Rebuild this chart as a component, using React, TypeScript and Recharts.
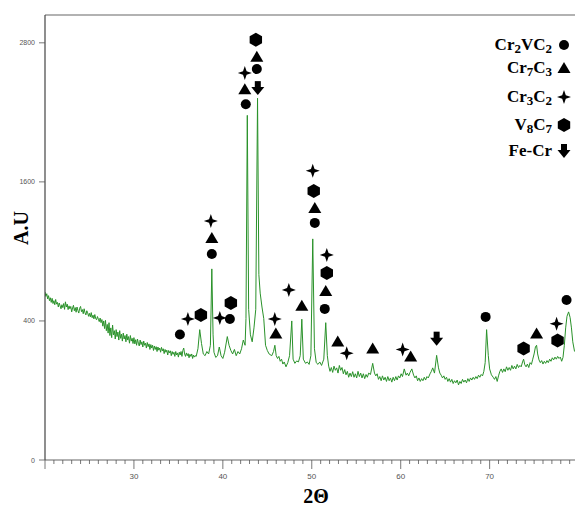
import { ComposedChart, Line, ReferenceLine, Scatter, XAxis, YAxis } from "recharts";

// XRD trace: [2θ, intensity]
const trace: [number, number][] = [
  [20.0, 650], [20.1, 612], [20.2, 635], [20.3, 590], [20.4, 618], [20.5, 575], [20.6, 600], [20.7, 560],
  [20.8, 595], [20.9, 550], [21.0, 575], [21.1, 540], [21.2, 585], [21.3, 545], [21.4, 560], [21.5, 520],
  [21.6, 555], [21.7, 530], [21.8, 505], [21.9, 540], [22.0, 515], [22.1, 550], [22.2, 500], [22.3, 565],
  [22.4, 520], [22.5, 545], [22.6, 498], [22.7, 530], [22.8, 505], [22.9, 525], [23.0, 478], [23.1, 512],
  [23.2, 535], [23.3, 488], [23.4, 515], [23.5, 475], [23.6, 520], [23.7, 490], [23.8, 468], [23.9, 510],
  [24.0, 525], [24.1, 480], [24.2, 498], [24.3, 462], [24.4, 505], [24.5, 470], [24.6, 452], [24.7, 488],
  [24.8, 470], [24.9, 440], [25.0, 465], [25.1, 435], [25.2, 472], [25.3, 428], [25.4, 450], [25.5, 418],
  [25.6, 455], [25.7, 420], [25.8, 410], [25.9, 438], [26.0, 415], [26.1, 398], [26.2, 425], [26.3, 395],
  [26.4, 412], [26.5, 385], [26.6, 400], [26.7, 378], [26.8, 405], [26.9, 372], [27.0, 390], [27.1, 365],
  [27.2, 395], [27.3, 358], [27.4, 380], [27.5, 352], [27.6, 388], [27.7, 360], [27.8, 372], [27.9, 348],
  [28.0, 375], [28.1, 355], [28.2, 368], [28.3, 345], [28.4, 372], [28.5, 350], [28.6, 362], [28.7, 342],
  [28.8, 365], [28.9, 348], [29.0, 358], [29.1, 340], [29.2, 362], [29.3, 345], [29.4, 355], [29.5, 336],
  [29.6, 358], [29.7, 342], [29.8, 350], [29.9, 335], [30.0, 352], [30.1, 334], [30.2, 346], [30.3, 330],
  [30.4, 348], [30.5, 336], [30.6, 328], [30.7, 345], [30.8, 332], [30.9, 340], [31.0, 325], [31.1, 342],
  [31.2, 330], [31.3, 336], [31.4, 322], [31.5, 338], [31.6, 326], [31.7, 334], [31.8, 318], [31.9, 332],
  [32.0, 322], [32.1, 330], [32.2, 315], [32.3, 328], [32.4, 318], [32.5, 326], [32.6, 312], [32.7, 325],
  [32.8, 316], [32.9, 322], [33.0, 310], [33.1, 324], [33.2, 314], [33.3, 320], [33.4, 306], [33.5, 318],
  [33.6, 310], [33.7, 316], [33.8, 302], [33.9, 315], [34.0, 308], [34.1, 314], [34.2, 300], [34.3, 312],
  [34.4, 304], [34.5, 310], [34.6, 298], [34.7, 312], [34.8, 302], [34.9, 308], [35.0, 296], [35.1, 310],
  [35.2, 302], [35.3, 312], [35.4, 298], [35.5, 315], [35.6, 322], [35.7, 305], [35.8, 298], [35.9, 308],
  [36.0, 300], [36.1, 306], [36.2, 294], [36.3, 304], [36.4, 298], [36.5, 305], [36.6, 292], [36.7, 302],
  [36.8, 296], [36.9, 300], [37.0, 298], [37.2, 320], [37.4, 375], [37.6, 335], [37.8, 305], [38.0, 300],
  [38.2, 312], [38.4, 305], [38.6, 330], [38.76, 849], [38.9, 360], [39.0, 310], [39.2, 295], [39.4, 300],
  [39.6, 325], [39.8, 300], [40.0, 292], [40.2, 310], [40.5, 355], [40.7, 330], [40.9, 315], [41.1, 305],
  [41.3, 318], [41.5, 300], [41.7, 312], [41.9, 305], [42.1, 320], [42.3, 345], [42.5, 330], [42.6, 420],
  [42.75, 2174], [42.9, 500], [43.1, 360], [43.3, 340], [43.5, 380], [43.7, 500], [43.9, 2322], [44.05, 800],
  [44.2, 640], [44.4, 520], [44.6, 420], [44.8, 330], [45.0, 315], [45.2, 305], [45.5, 300], [45.7, 312],
  [45.85, 330], [46.0, 300], [46.15, 292], [46.3, 298], [46.45, 284], [46.6, 290], [46.75, 276], [46.9, 282],
  [47.1, 268], [47.3, 280], [47.5, 300], [47.75, 400], [47.9, 290], [48.1, 278], [48.3, 285], [48.5, 282],
  [48.7, 300], [48.88, 415], [49.05, 290], [49.3, 278], [49.5, 282], [49.7, 275], [49.9, 300], [50.11, 1108],
  [50.3, 320], [50.5, 280], [50.7, 275], [50.9, 282], [51.1, 272], [51.35, 290], [51.57, 395], [51.75, 300],
  [51.9, 270], [52.05, 255], [52.2, 266], [52.35, 252], [52.5, 270], [52.65, 258], [52.8, 265], [52.95, 250],
  [53.1, 272], [53.25, 258], [53.4, 266], [53.55, 248], [53.7, 260], [53.85, 245], [54.0, 255], [54.15, 238],
  [54.3, 250], [54.45, 240], [54.6, 254], [54.75, 238], [54.9, 248], [55.05, 236], [55.2, 255], [55.35, 240],
  [55.5, 250], [55.65, 236], [55.8, 248], [55.95, 234], [56.1, 246], [56.25, 238], [56.4, 250], [56.6, 246],
  [56.85, 278], [57.05, 250], [57.2, 242], [57.35, 248], [57.5, 232], [57.65, 240], [57.8, 228], [57.95, 242],
  [58.1, 230], [58.25, 238], [58.4, 226], [58.55, 240], [58.7, 228], [58.85, 236], [59.0, 224], [59.15, 238],
  [59.3, 228], [59.45, 240], [59.6, 230], [59.75, 242], [59.9, 236], [60.05, 248], [60.2, 240], [60.4, 262],
  [60.6, 244], [60.75, 250], [60.9, 242], [61.05, 252], [61.25, 262], [61.45, 244], [61.6, 236], [61.75, 242],
  [61.9, 228], [62.05, 236], [62.2, 226], [62.35, 234], [62.5, 228], [62.65, 238], [62.8, 230], [62.95, 240],
  [63.1, 236], [63.3, 248], [63.45, 255], [63.6, 265], [63.8, 250], [64.04, 301], [64.25, 265], [64.4, 250],
  [64.55, 244], [64.7, 236], [64.85, 242], [65.0, 232], [65.15, 238], [65.3, 226], [65.45, 234], [65.6, 224],
  [65.75, 232], [65.9, 220], [66.05, 228], [66.2, 222], [66.35, 230], [66.5, 216], [66.65, 226], [66.8, 220],
  [66.95, 232], [67.1, 224], [67.25, 230], [67.4, 222], [67.55, 234], [67.7, 226], [67.85, 236], [68.0, 230],
  [68.15, 238], [68.3, 232], [68.45, 240], [68.6, 234], [68.75, 244], [68.9, 238], [69.05, 246], [69.2, 242],
  [69.35, 255], [69.5, 280], [69.66, 375], [69.85, 300], [70.0, 262], [70.2, 245], [70.4, 238], [70.55, 232],
  [70.7, 240], [70.85, 226], [71.0, 242], [71.15, 255], [71.3, 262], [71.45, 252], [71.6, 262], [71.75, 254],
  [71.9, 268], [72.05, 258], [72.2, 266], [72.35, 258], [72.5, 272], [72.65, 262], [72.8, 270], [72.95, 262],
  [73.1, 275], [73.25, 266], [73.4, 272], [73.55, 268], [73.7, 282], [73.82, 290], [73.95, 274], [74.1, 268],
  [74.25, 276], [74.4, 266], [74.55, 280], [74.7, 275], [74.85, 290], [75.0, 305], [75.15, 325], [75.28, 330],
  [75.4, 305], [75.55, 288], [75.7, 280], [75.85, 286], [76.0, 276], [76.15, 284], [76.3, 278], [76.45, 286],
  [76.6, 280], [76.75, 290], [76.9, 284], [77.05, 294], [77.2, 288], [77.35, 296], [77.5, 290], [77.65, 298],
  [77.8, 292], [77.95, 296], [78.1, 284], [78.25, 295], [78.4, 330], [78.55, 380], [78.7, 440], [78.88, 478],
  [79.05, 430], [79.2, 380], [79.35, 340], [79.55, 312],
];

// peak markers per phase: [2θ, height]
const cr2vc2: [number, number][] = [
  [35.17, 361], [38.76, 978], [40.79, 417], [42.58, 2270], [43.82, 2574], [50.34, 1246], [51.46, 504], [69.55, 435], [78.65, 581],
];
const cr7c3: [number, number][] = [
  [38.76, 1116], [42.47, 2400], [43.82, 2679], [45.96, 364], [48.88, 530], [50.34, 1375], [51.57, 659], [52.92, 341],
  [56.85, 321], [61.12, 298], [75.28, 364],
];
const cr3c2: [number, number][] = [
  [36.07, 417], [38.65, 1263], [39.66, 426], [42.47, 2540], [45.84, 417], [47.42, 668], [50.11, 1696], [51.69, 970],
  [53.93, 307], [60.22, 318], [77.53, 392],
];
const v8c7: [number, number][] = [
  [37.53, 452], [40.9, 555], [43.71, 2827], [50.22, 1522], [51.69, 814], [73.82, 321], [77.64, 344],
];
const fecr: [number, number][] = [
  [43.93, 2409], [64.04, 349],
];

const yTicks = [0, 400, 1600, 2800];
const xLabels = [30, 40, 50, 60, 70];
const xTicks = Array.from({ length: 60 }, (_, i) => 20 + i);

const toPts = (a: [number, number][]) => a.map(([x, y]) => ({ x, y }));

// the intensity axis in the picture is stretched: 0-400, 400-1600, 1600-2800 take equal space
const toStep = (v: number) => (v <= 400 ? v / 400 : v <= 1600 ? 1 + (v - 400) / 1200 : 2 + (v - 1600) / 1200);
const fromStep = (s: number) => (s <= 1 ? s * 400 : s <= 2 ? 400 + (s - 1) * 1200 : 1600 + (s - 2) * 1200);

function auScale(dom: number[] = [0, 1], rng: number[] = [0, 1]): any {
  const scale: any = (v: number) => {
    const a = toStep(dom[0]);
    const b = toStep(dom[dom.length - 1]);
    return rng[0] + ((toStep(v) - a) / (b - a)) * (rng[rng.length - 1] - rng[0]);
  };
  scale.domain = (d?: number[]) => {
    if (d === undefined) return [...dom];
    dom = [...d];
    return scale;
  };
  scale.range = (r?: number[]) => {
    if (r === undefined) return [...rng];
    rng = [...r];
    return scale;
  };
  scale.invert = (p: number) => {
    const a = toStep(dom[0]);
    const b = toStep(dom[dom.length - 1]);
    return fromStep(a + ((p - rng[0]) / (rng[rng.length - 1] - rng[0])) * (b - a));
  };
  scale.ticks = () => yTicks;
  scale.copy = () => auScale(dom, rng);
  return scale;
}

const Circle = ({ cx, cy }: any) => <circle cx={cx} cy={cy} r={5} fill="#000" />;
const Tri = ({ cx, cy }: any) => (
  <polygon points={`${cx},${cy - 6} ${cx + 6.5},${cy + 5} ${cx - 6.5},${cy + 5}`} fill="#000" />
);
const Star = ({ cx, cy }: any) => (
  <polygon
    points={`${cx},${cy - 7} ${cx + 1.8},${cy - 1.8} ${cx + 7},${cy} ${cx + 1.8},${cy + 1.8} ${cx},${cy + 7} ${cx - 1.8},${cy + 1.8} ${cx - 7},${cy} ${cx - 1.8},${cy - 1.8}`}
    fill="#000"
  />
);
const Hex = ({ cx, cy }: any) => (
  <polygon
    points={`${cx},${cy - 7} ${cx + 6.2},${cy - 3.5} ${cx + 6.2},${cy + 3.5} ${cx},${cy + 7} ${cx - 6.2},${cy + 3.5} ${cx - 6.2},${cy - 3.5}`}
    fill="#000"
  />
);
const Arrow = ({ cx, cy }: any) => (
  <g fill="#000">
    <rect x={cx - 3} y={cy - 7} width={6} height={7} />
    <polygon points={`${cx - 6.5},${cy - 1} ${cx + 6.5},${cy - 1} ${cx},${cy + 7}`} />
  </g>
);

const phases = [
  { name: ["Cr", "2", "VC", "2"], shape: Circle },
  { name: ["Cr", "7", "C", "3"], shape: Tri },
  { name: ["Cr", "3", "C", "2"], shape: Star },
  { name: ["V", "8", "C", "7"], shape: Hex },
  { name: ["Fe-Cr"], shape: Arrow },
];
const legendRows = [45, 68, 97, 125, 151];

const XTick = (p: any) => {
  const v = p.payload.value;
  const major = v % 10 === 0;
  return (
    <g>
      <line x1={p.x} x2={p.x} y1={p.y} y2={p.y + (major ? 9 : 4)} stroke="#555" strokeWidth={0.8} />
      {major && xLabels.includes(v) && (
        <text x={p.x} y={p.y + 19} textAnchor="middle" fontSize={8} fill="#555" fontFamily="Liberation Sans">
          {v}
        </text>
      )}
    </g>
  );
};

const YTick = (p: any) => (
  <g>
    <line x1={p.x - 6} x2={p.x} y1={p.y} y2={p.y} stroke="#555" strokeWidth={0.8} />
    <text x={p.x - 10} y={p.y} dy={2.5} textAnchor="end" fontSize={7} fill="#555" fontFamily="Liberation Sans">
      {p.payload.value}
    </text>
  </g>
);

const serif = { fontFamily: "'Liberation Serif', serif", fontWeight: 700, color: "#000" };
const sub = { fontSize: 13, position: "relative" as const, top: 3 };

export default function App() {
  return (
    <div style={{ position: "relative", width: 575, height: 506, background: "#fff" }}>
      <style>{`body{margin:0}`}</style>
      <ComposedChart width={575} height={506} margin={{ top: 15, right: 0, left: 0, bottom: 0 }}>
        <XAxis
          dataKey="x"
          type="number"
          domain={[20, 79.6]}
          ticks={xTicks}
          interval={0}
          height={46}
          tickSize={0}
          tickMargin={0}
          tickLine={false}
          tick={XTick}
          axisLine={{ stroke: "#999", strokeWidth: 1.5 }}
          allowDataOverflow
        />
        <YAxis
          type="number"
          domain={[0, 3040]}
          scale={auScale()}
          ticks={yTicks}
          interval={0}
          width={45}
          tickSize={0}
          tickMargin={0}
          tickLine={false}
          tick={YTick}
          axisLine={{ stroke: "#444", strokeWidth: 1.2 }}
          allowDataOverflow
        />
        <ReferenceLine y={3040} stroke="#999" strokeWidth={1.5} />
        <Line
          data={toPts(trace)}
          dataKey="y"
          stroke="#2a922a"
          strokeWidth={1}
          dot={false}
          isAnimationActive={false}
        />
        <Scatter data={toPts(cr2vc2)} dataKey="y" shape={Circle} isAnimationActive={false} />
        <Scatter data={toPts(cr7c3)} dataKey="y" shape={Tri} isAnimationActive={false} />
        <Scatter data={toPts(cr3c2)} dataKey="y" shape={Star} isAnimationActive={false} />
        <Scatter data={toPts(v8c7)} dataKey="y" shape={Hex} isAnimationActive={false} />
        <Scatter data={toPts(fecr)} dataKey="y" shape={Arrow} isAnimationActive={false} />
      </ComposedChart>

      {phases.map((ph, i) => {
        const Shape = ph.shape;
        const top = legendRows[i];
        return (
          <div key={i} style={{ position: "absolute", top: top - 12, left: 410, height: 24, display: "flex", alignItems: "center" }}>
            <div style={{ ...serif, width: 142, textAlign: "right", fontSize: 17, lineHeight: "24px" }}>
              {ph.name.length === 1 ? (
                ph.name[0]
              ) : (
                <>
                  {ph.name[0]}
                  <span style={sub}>{ph.name[1]}</span>
                  {ph.name[2]}
                  <span style={sub}>{ph.name[3]}</span>
                </>
              )}
            </div>
            <svg width={18} height={18} style={{ marginLeft: 3 }}>
              <Shape cx={9} cy={9} />
            </svg>
          </div>
        );
      })}

      <div
        style={{
          ...serif,
          position: "absolute",
          left: 21,
          top: 228,
          fontSize: 20,
          transform: "translate(-50%, -50%) rotate(-90deg)",
          whiteSpace: "nowrap",
        }}
      >
        A.U
      </div>
      <div
        style={{
          ...serif,
          position: "absolute",
          left: 316,
          top: 496,
          fontSize: 20,
          transform: "translate(-50%, -50%)",
          whiteSpace: "nowrap",
        }}
      >
        2Θ
      </div>
    </div>
  );
}
